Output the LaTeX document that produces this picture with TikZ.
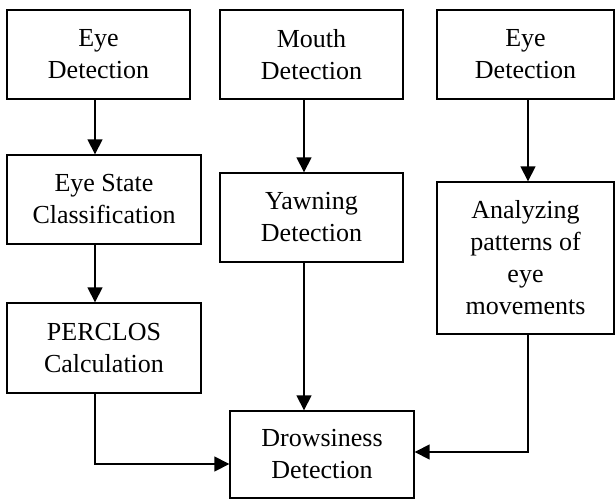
\documentclass[tikz,border=0pt]{standalone}
\usepackage{fontspec}
\setmainfont{Liberation Serif}
\usetikzlibrary{positioning,arrows.meta}
\tikzset{%
  stage/.style={draw, line width=1.4pt, rectangle, align=center, inner sep=0pt,
    font=\fontsize{26}{32}\selectfont},% processing block
  flow/.style={line width=1.6pt, -{Triangle[length=15pt,width=15pt]}}% connector
}
\begin{document}
\begin{tikzpicture}[x=1pt, y=-1pt]
\useasboundingbox (0,0) rectangle (616,499);

\node[stage, minimum width=183pt, minimum height=89pt] (eyeA) at (98.5, 54.5) {Eye\\Detection};
\node[stage, minimum width=194pt, minimum height=89pt] (state) at (104, 199.5) {Eye State\\Classification};
\node[stage, minimum width=194pt, minimum height=90pt] (perclos) at (104, 348) {PERCLOS\\Calculation};
\node[stage, minimum width=183pt, minimum height=89pt] (mouth) at (311.5, 54.5) {Mouth\\Detection};
\node[stage, minimum width=183pt, minimum height=89pt] (yawn) at (311.5, 217.5) {Yawning\\Detection};
\node[stage, minimum width=177pt, minimum height=89pt] (eyeB) at (525.5, 54.5) {Eye\\Detection};
\node[stage, minimum width=177pt, minimum height=152pt] (analyze) at (525.5, 258) {Analyzing\\patterns of\\eye\\movements};
\node[stage, minimum width=184pt, minimum height=87pt] (drowsy) at (322, 454.5) {Drowsiness\\Detection};

\draw[flow] ([xshift=-3.5pt]eyeA.south) -- ([xshift=-3.5pt]eyeA.south |- state.north);
\draw[flow] ([xshift=-3.5pt]eyeA.south |- state.south) -- ([xshift=-3.5pt]eyeA.south |- perclos.north);
\draw[flow] ([xshift=-7.5pt]mouth.south) -- ([xshift=-7.5pt]mouth.south |- yawn.north);
\draw[flow] ([xshift=-7.5pt]yawn.south) -- ([xshift=-7.5pt]yawn.south |- drowsy.north);
\draw[flow] ([xshift=2.5pt]eyeB.south) -- ([xshift=2.5pt]eyeB.south |- analyze.north);
\draw[flow] ([xshift=-3.5pt]eyeA.south |- perclos.south) |- ([yshift=-9.5pt]drowsy.west);
\draw[flow] ([xshift=2.5pt]analyze.south) |- ([yshift=2.5pt]drowsy.east);

\end{tikzpicture}
\end{document}
